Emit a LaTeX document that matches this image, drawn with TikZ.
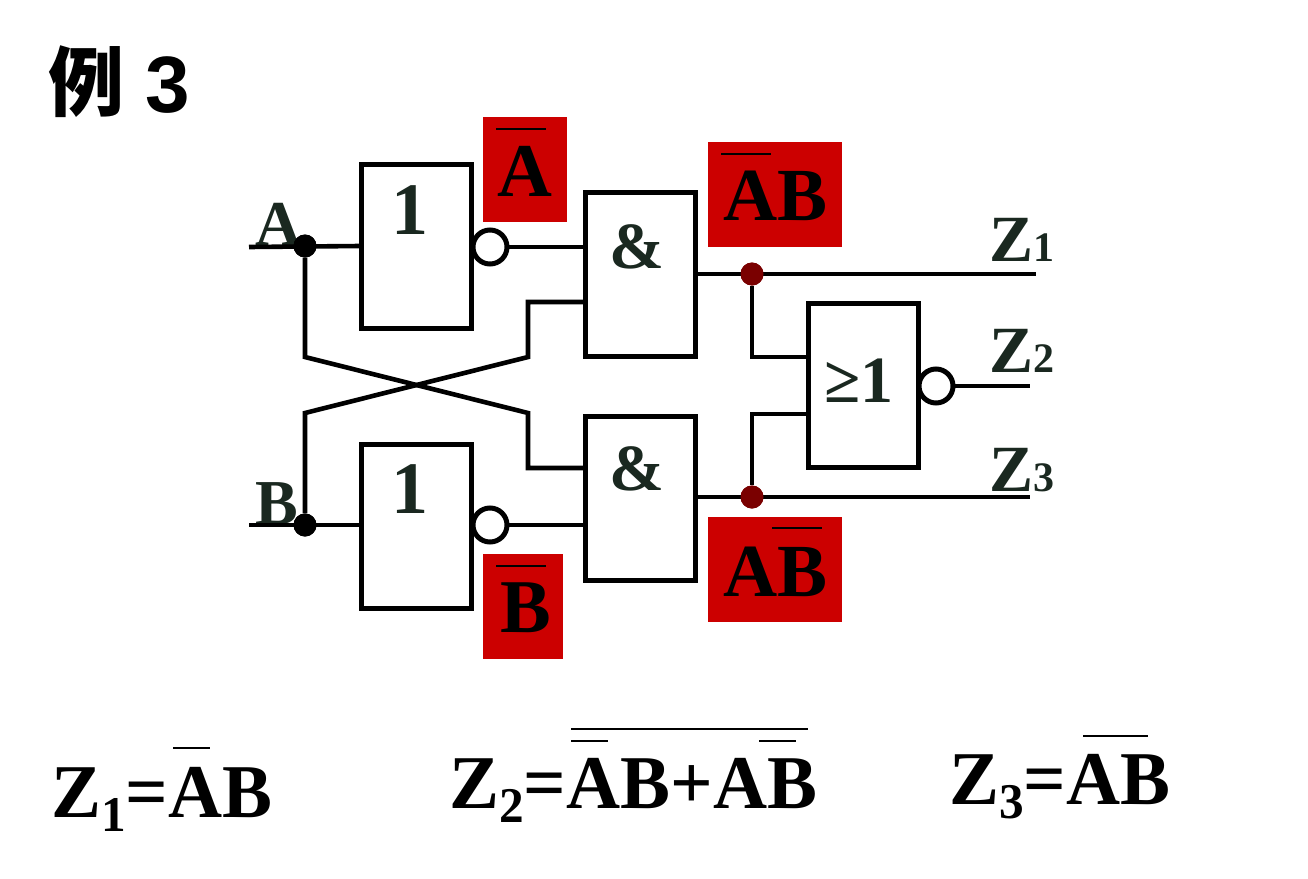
\documentclass[tikz,border=0pt]{standalone}
\usepackage{fontspec}
\setmainfont{Liberation Serif}
\newfontfamily\cjk{Noto Sans CJK SC}
\newfontfamily\lsans{Liberation Sans}
\definecolor{ink}{HTML}{1A2820}
\definecolor{redbox}{HTML}{CC0000}
\definecolor{dotred}{HTML}{7A0000}
\newcommand{\fs}[1]{\fontsize{#1}{#1}\selectfont}
\tikzset{
  gate/.style={draw=black,line width=5pt,fill=white,minimum width=110pt,minimum height=164pt,inner sep=0pt},
  wire/.style={line width=4.6pt,black,line join=miter},
  bubble/.style={circle,draw=black,line width=5pt,fill=white,minimum size=34pt,inner sep=0pt},
  dot/.style={circle,fill=#1,minimum size=23pt,inner sep=0pt},
  txt/.style={anchor=base west,inner sep=0pt,text=ink,font=\bfseries},
  blk/.style={anchor=base west,inner sep=0pt,text=black,font=\bfseries},
  bar/.style={line width=2.4pt,black},
  redlab/.style={fill=redbox,inner sep=0pt,anchor=north west}
}
\begin{document}
\begin{tikzpicture}[x=1pt,y=-1pt]
\useasboundingbox (0,0) rectangle (1308,878);
% red boxes
\node[redlab,minimum width=84pt,minimum height=105pt] (ra) at (483,117) {};
\node[redlab,minimum width=134pt,minimum height=105pt] (rab) at (708,142) {};
\node[redlab,minimum width=134pt,minimum height=105pt] (rba) at (708,517) {};
\node[redlab,minimum width=80pt,minimum height=105pt] (rb) at (483,554) {};
% pins
\coordinate (ain) at (249,247);
\coordinate (bin) at (249,525);
\coordinate (a1a) at (584,247);
\coordinate (a1b) at (584,302);
\coordinate (a2a) at (584,468);
\coordinate (a2b) at (584,525);
\coordinate (o1a) at (807,357);
\coordinate (o1b) at (807,414);
\coordinate (n1in) at (360,246);
\coordinate (n2in) at (360,525);
\coordinate (a1o) at (696,274);
\coordinate (a2o) at (696,497);
\coordinate (z1) at (1036,274);
\coordinate (z2) at (1030,386);
\coordinate (z3) at (1030,497);
\coordinate (c1) at (305,357);
\coordinate (c2) at (528,413);
\coordinate (c3) at (528,468);
\coordinate (d1) at (305,413);
\coordinate (d2) at (528,357);
\coordinate (d3) at (528,302);
\coordinate (e1) at (752,357);
\coordinate (e2) at (752,414);
% input labels (under the dots)
\node[txt] (ta) at (255,245) {\fs{64}A};
\node[txt] (tb) at (255,524) {\fs{64}B};
% wires
\node[dot=black] (da) at (305,246) {};
\node[dot=black] (db) at (305,525) {};
\node[dot=dotred] (d1r) at (752,274) {};
\node[dot=dotred] (d2r) at (752,497) {};
\coordinate (b1w) at (490,247);
\coordinate (b2w) at (490,525);
\coordinate (b3w) at (936,386);
\draw[wire] (ain) -- (n1in);
\draw[wire] (bin) -- (n2in);
\draw[wire] (b1w) -- (a1a);
\draw[wire] (b2w) -- (a2b);
\draw[wire] (da) -- (c1) -- (c2) -- (c3) -- (a2a);
\draw[wire] (db) -- (d1) -- (d2) -- (d3) -- (a1b);
\draw[wire] (a1o) -- (z1);
\draw[wire] (a2o) -- (z3);
\draw[wire] (b3w) -- (z2);
\draw[wire] (d1r) -- (e1) -- (o1a);
\draw[wire] (d2r) -- (e2) -- (o1b);
\node[dot=black] at (da) {};
\node[dot=black] at (db) {};
\node[dot=dotred] at (d1r) {};
\node[dot=dotred] at (d2r) {};
% gates
\node[gate] (n1) at (416.5,246.5) {};
\node[gate] (n2) at (416.5,526) {};
\node[gate] (a1) at (640,274) {};
\node[gate] (a2) at (640,498) {};
\node[gate] (o1) at (863,385.5) {};
\node[bubble] (b1) at (490,247) {};
\node[bubble] (b2) at (490,525) {};
\node[bubble] (b3) at (936,386) {};
% gate labels
\node[txt] (t1) at (391,234) {\fs{74}1};
\node[txt] (t2) at (391,513) {\fs{74}1};
\node[txt] (t3) at (609,268) {\fs{66}\&};
\node[txt] (t4) at (609,490) {\fs{66}\&};
\node[txt] (t5) at (824,402) {\fs{66}≥1};
% outputs
\node[txt] (tz1) at (989,261) {\fs{66}Z\fs{42}1};
\node[txt] (tz2) at (989,372) {\fs{66}Z\fs{42}2};
\node[txt] (tz3) at (989,491) {\fs{66}Z\fs{42}3};
% red labels
\node[blk] (la) at (497,196) {\fs{76}A};
\node[blk] (lab) at (723,220) {\fs{75}AB};
\node[blk] (lba) at (723,596) {\fs{75}AB};
\node[blk] (lb) at (500,632) {\fs{76}B};
\draw[bar] (496,129) -- (546,129);
\draw[bar] (721,154) -- (771,154);
\draw[bar] (772,528) -- (822,528);
\draw[bar] (496,566) -- (546,566);
% title
\node[anchor=base west,inner sep=0pt] (ti) at (48,110) {\cjk\bfseries\fs{76}例};
\node[anchor=base west,inner sep=0pt] (tn) at (145,112) {\lsans\bfseries\fs{80}3};
% formulas
\node[blk] (f1) at (51,817) {\fs{76}\scalebox{0.985}[1]{Z\raisebox{-14pt}{\fs{50}1}=AB}};
\node[blk] (f2) at (449,808) {\fs{76}\scalebox{0.985}[1]{Z\raisebox{-14pt}{\fs{50}2}=AB+AB}};
\node[blk] (f3) at (949,804) {\fs{76}\scalebox{0.985}[1]{Z\raisebox{-14pt}{\fs{50}3}=AB}};
\draw[bar] (173,748) -- (210,748);
\draw[bar] (571,729) -- (808,729);
\draw[bar] (571,741) -- (608,741);
\draw[bar] (759,741) -- (796,741);
\draw[bar] (1083,736) -- (1148,736);
\end{tikzpicture}
\end{document}
